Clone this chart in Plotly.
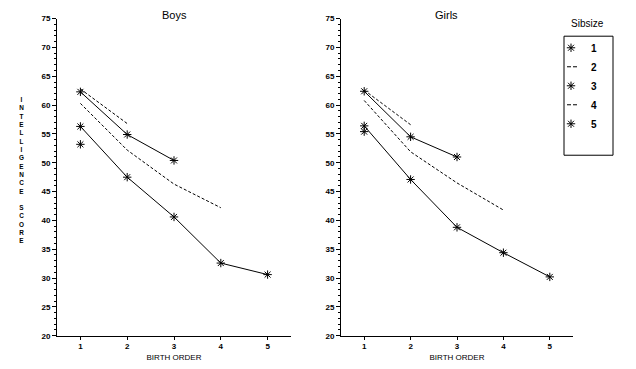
import plotly.graph_objects as go

# ---- data ----
birth_order = [1, 2, 3, 4, 5]
sibsizes = ["1", "2", "3", "4", "5"]

boys_1 = [53.2]
boys_2 = [62.8, 56.8]
boys_3 = [62.3, 54.9, 50.4]
boys_4 = [60.3, 52.2, 46.3, 42.2]
boys_5 = [56.3, 47.5, 40.6, 32.6, 30.6]

girls_1 = [55.4]
girls_2 = [62.6, 56.6]
girls_3 = [62.4, 54.5, 51.0]
girls_4 = [60.8, 51.9, 46.5, 41.8]
girls_5 = [56.4, 47.1, 38.8, 34.4, 30.2]

boys = [boys_1, boys_2, boys_3, boys_4, boys_5]
girls = [girls_1, girls_2, girls_3, girls_4, girls_5]

y_ticks = [20, 25, 30, 35, 40, 45, 50, 55, 60, 65, 70, 75]

FONT = "Liberation Sans, Arial, sans-serif"
BLACK = "black"
MARKER = dict(symbol="asterisk-open", size=7, line=dict(color=BLACK, width=1), color=BLACK)
DASH = "3px,2px"
LEGEND_DASH = "0px,11px,4px,2px,4px,100px"

def style(i):
    if i % 2 == 0:  # sibsize 1,3,5: solid with asterisks
        return dict(mode="lines+markers", line=dict(color=BLACK, width=1), marker=MARKER)
    return dict(mode="lines", line=dict(color=BLACK, width=1, dash=DASH))

fig = go.Figure()
for panel, (data, xa, ya) in enumerate([(boys, "x", "y"), (girls, "x2", "y2")]):
    for i, vals in enumerate(data):
        fig.add_trace(go.Scatter(x=birth_order[:len(vals)], y=vals, xaxis=xa, yaxis=ya,
                                 showlegend=False, hoverinfo="skip", **style(i)))

# legend-only entries
for i, s in enumerate(sibsizes):
    if i % 2 == 0:
        fig.add_trace(go.Scatter(x=[None], y=[None], mode="markers", name=s, marker=MARKER))
    else:
        fig.add_trace(go.Scatter(x=[None], y=[None], mode="lines", name=s,
                                 line=dict(color=BLACK, width=1, dash=LEGEND_DASH)))

W, H = 636, 369
def px(v): return v / W
def py(v): return 1 - v / H

TICKFONT = dict(family=FONT, size=8, color=BLACK, weight="bold")
xcommon = dict(range=[0.5, 5.5], tickvals=birth_order, ticks="outside", ticklen=3,
               tickwidth=1, tickcolor=BLACK, showline=True, linecolor=BLACK, linewidth=1,
               showgrid=False, zeroline=False, tickfont=TICKFONT,
               title=dict(text="BIRTH ORDER", font=dict(family=FONT, size=8, color=BLACK), standoff=4))
ycommon = dict(range=[20, 75], tickvals=y_ticks, ticks="outside", ticklen=4, tickwidth=1,
               tickcolor=BLACK, showline=True, linecolor=BLACK, linewidth=1,
               showgrid=False, zeroline=False,
               minor=dict(dtick=1, ticks="outside", ticklen=2, tickcolor=BLACK, tickwidth=1, showgrid=False),
               tickfont=TICKFONT)

def label(text, x, y, size, weight="normal"):
    return dict(text=text, x=px(x), y=py(y), xref="paper", yref="paper", showarrow=False,
                xanchor="center", yanchor="middle",
                font=dict(family=FONT, size=size, color=BLACK, weight=weight))

fig.update_layout(
    width=W, height=H, margin=dict(l=0, r=0, t=0, b=0),
    paper_bgcolor="white", plot_bgcolor="white",
    xaxis=dict(domain=[px(57), px(291)], anchor="y", **xcommon),
    yaxis=dict(domain=[py(340), py(15)], anchor="x", **ycommon),
    xaxis2=dict(domain=[px(341), px(573)], anchor="y2", **xcommon),
    yaxis2=dict(domain=[py(340), py(15)], anchor="x2", **ycommon),
    showlegend=True,
    legend=dict(x=px(551), y=py(30), xanchor="left", yanchor="top",
                bgcolor="rgba(0,0,0,0)", borderwidth=0, itemwidth=30,
                font=dict(family=FONT, size=10, color=BLACK, weight="bold"), tracegroupgap=0),
    shapes=[dict(type="rect", xref="paper", yref="paper",
                 x0=px(564), x1=px(613), y0=py(155), y1=py(33),
                 line=dict(color=BLACK, width=1))],
    annotations=[
        label("Boys", 174, 11, 11),
        label("Girls", 446, 11, 11),
        label("Sibsize", 587, 20, 10),
        label("<br>".join(list("INTELLIGENCE") + [" "] + list("SCORE")), 21, 170, 6.4, "bold"),
    ],
)

fig.write_html("out.html", config={"displayModeBar": False},
               post_script="document.body.style.margin='0';document.body.style.padding='0';")
